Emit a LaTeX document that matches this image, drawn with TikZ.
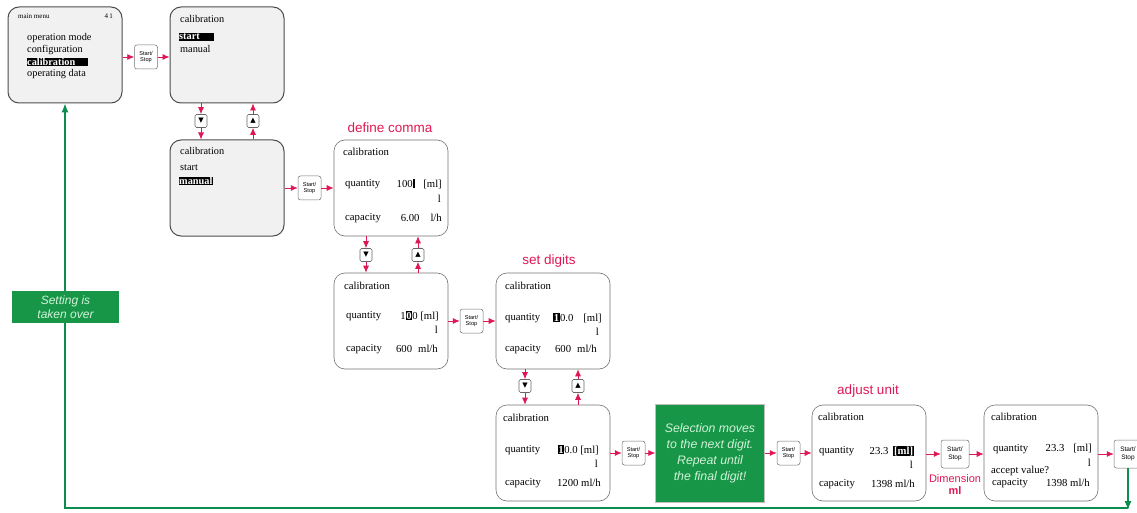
\documentclass[tikz,border=0pt]{standalone}
\usepackage{fontspec}
\setmainfont{Liberation Serif}
\setsansfont{Liberation Sans}
\newfontfamily\symfont{DejaVu Sans}
\usetikzlibrary{arrows.meta}

\definecolor{keyred}{RGB}{222,24,84}
\definecolor{retgreen}{RGB}{12,140,78}
\definecolor{notegreen}{RGB}{24,150,72}
\definecolor{notetext}{RGB}{208,242,216}
\definecolor{screengray}{RGB}{241,241,241}

\newcommand{\hl}[1]{{\setlength{\fboxsep}{0.7pt}\colorbox{black}{\textcolor{white}{\bfseries #1}}}}
\newcommand{\hlw}[2]{{\setlength{\fboxsep}{0.7pt}\colorbox{black}{\makebox[#1][l]{\textcolor{white}{\bfseries #2}}}}}
\newcommand{\cur}{\rule[-0.5pt]{2.6pt}{8.5pt}}

\tikzset{
	screen/.style={draw=black!55, line width=0.6pt, rounded corners=11pt, fill=white,
		minimum width=114pt, minimum height=96pt, inner sep=0pt},
	menuscreen/.style={screen, draw=black!70, line width=1pt, fill=screengray},
	keybtn/.style={draw=black!55, line width=0.5pt, rounded corners=2.5pt, fill=white,
		minimum width=23pt, minimum height=24pt, inner sep=0pt, align=center,
		font=\sffamily\fontsize{5.6}{6.6}\selectfont},
	bigkey/.style={keybtn, minimum width=28pt, minimum height=28pt, font=\sffamily\fontsize{6.5}{7.5}\selectfont},
	arrowbtn/.style={draw=black!60, line width=0.6pt, rounded corners=1.5pt, fill=white,
		minimum width=12pt, minimum height=13pt, inner sep=0pt, font=\symfont\fontsize{7}{7}\selectfont},
	redarrow/.style={keyred, line width=0.8pt, -{Latex[length=7pt,width=6pt]}},
	greenline/.style={retgreen, line width=1.2pt},
	lbl/.style={anchor=west, inner sep=0pt, font=\fontsize{10.7}{12}\selectfont},
	val/.style={anchor=east, inner sep=0pt, font=\fontsize{10.7}{12}\selectfont},
	menutxt/.style={anchor=west, inner sep=0pt, font=\fontsize{10.3}{11}\selectfont},
	steplabel/.style={keyred, inner sep=0pt, font=\sffamily\fontsize{13.5}{15}\selectfont},
}

\begin{document}
\begin{tikzpicture}[x=1pt,y=-1pt]
	\useasboundingbox (0,0) rectangle (1137,513);

	% menu screens
	\node[menuscreen] (A) at (65,55) {};
	\node[menuscreen] (B) at (227,55) {};
	\node[menuscreen] (C) at (227,188) {};

	\node[menutxt, font=\fontsize{7}{8}\selectfont] (Ahead) at (18,16) {main menu};
	\node[val, font=\fontsize{7}{8}\selectfont] (Anum) at (113,16) {4\,1};
	\node[menutxt] (A1) at (27,38) {operation mode};
	\node[menutxt] (A2) at (27,50) {configuration};
	\node[menutxt] (A3) at (26.3,62) {\hlw{60pt}{calibration}};
	\node[menutxt] (A4) at (27,74) {operating data};

	\node[menutxt] (Bt) at (180,19) {calibration};
	\node[menutxt] (B1) at (178.3,37) {\hlw{34pt}{start}};
	\node[menutxt] (B2) at (180,49) {manual};

	\node[menutxt] (Ct) at (180,151) {calibration};
	\node[menutxt] (C1) at (180,168) {start};
	\node[menutxt] (C2) at (178.3,181) {\hl{manual}};

	% value screens
	\node[screen] (D) at (391,188) {};
	\node[screen] (E) at (391,321) {};
	\node[screen] (F) at (553,321) {};
	\node[screen] (G) at (553,453) {};
	\node[screen] (I) at (869,453) {};
	\node[screen] (J) at (1041,453) {};

	\node[lbl] (Dt) at (343,152) {calibration};
	\node[lbl] (Dq) at (345,184) {quantity};
	\node[val] (Dqv) at (442,184) {100\cur\hspace{8pt}[ml]};
	\node[val] (Dl) at (441,199) {l};
	\node[lbl] (Dc) at (345,218) {capacity};
	\node[val] (Dcv) at (442,218) {6.00\hspace{11pt}l/h};

	\node[lbl] (Et) at (344,286) {calibration};
	\node[lbl] (Eq) at (346,316) {quantity};
	\node[val] (Eqv) at (439,316) {1\hl{0}0 [ml]};
	\node[val] (El) at (438,330) {l};
	\node[lbl] (Ec) at (346,349) {capacity};
	\node[val] (Ecv) at (438,349) {600\hspace{6pt}ml/h};

	\node[lbl] (Ft) at (505,286) {calibration};
	\node[lbl] (Fq) at (505,318) {quantity};
	\node[val] (Fqv) at (602,318) {\hl{1}0.0\hspace{10pt}[ml]};
	\node[val] (Fl) at (599,332) {l};
	\node[lbl] (Fc) at (505,349) {capacity};
	\node[val] (Fcv) at (597,349) {600\hspace{6pt}ml/h};

	\node[lbl] (Gt) at (503,418) {calibration};
	\node[lbl] (Gq) at (505,450) {quantity};
	\node[val] (Gqv) at (599,450) {\hl{1}0.0 [ml]};
	\node[val] (Gl) at (598,464) {l};
	\node[lbl] (Gc) at (505,483) {capacity};
	\node[val] (Gcv) at (601,483) {1200 ml/h};

	\node[lbl] (It) at (818,417) {calibration};
	\node[lbl] (Iq) at (819,451) {quantity};
	\node[val] (Iqv) at (914,451) {23.3\hspace{5pt}\hl{[ml]}};
	\node[val] (Il) at (913,465) {l};
	\node[lbl] (Ic) at (819,484) {capacity};
	\node[val] (Icv) at (915,484) {1398 ml/h};

	\node[lbl] (Jt) at (991,417) {calibration};
	\node[lbl] (Jq) at (993,449) {quantity};
	\node[val] (Jqv) at (1092,449) {23.3\hspace{9pt}[ml]};
	\node[val] (Jl) at (1091,463) {l};
	\node[lbl] (Ja) at (991,471) {accept value?};
	\node[lbl] (Jc) at (992,483) {capacity};
	\node[val] (Jcv) at (1090,483) {1398 ml/h};

	% note
	\node[fill=notegreen, draw=black!25, line width=0.4pt, minimum width=109pt, minimum height=98pt,
		inner sep=0pt, align=center, text=notetext,
		font=\sffamily\itshape\fontsize{12.3}{16}\selectfont] (H) at (710,453)
		{Selection moves\\to the next digit.\\Repeat until\\the final digit!};

	% keys
	\node[keybtn] (ss1) at (146,57) {Start/\\Stop};
	\node[keybtn] (ss2) at (309.5,188) {Start/\\Stop};
	\node[keybtn] (ss3) at (471.5,321) {Start/\\Stop};
	\node[keybtn] (ss4) at (633.5,453) {Start/\\Stop};
	\node[keybtn] (ss5) at (788.5,453) {Start/\\Stop};
	\node[bigkey] (ss6) at (955,454) {Start/\\Stop};
	\node[bigkey] (ss7) at (1128,454) {Start/\\Stop};

	\node[arrowbtn] (dn1) at (201,121) {▼};
	\node[arrowbtn] (up1) at (253,121) {▲};
	\node[arrowbtn] (dn2) at (366,255) {▼};
	\node[arrowbtn] (up2) at (418,255) {▲};
	\node[arrowbtn] (dn3) at (525,386) {▼};
	\node[arrowbtn] (up3) at (578,386) {▲};

	% step labels
	\node[steplabel] (defcomma) at (390,128) {define comma};
	\node[steplabel] (setdig) at (549,261) {set digits};
	\node[steplabel] (adjunit) at (868,391) {adjust unit};
	\node[steplabel, font=\sffamily\fontsize{11}{12}\selectfont, align=center] (dimml) at (955,485)
		{Dimension\\\textbf{ml}};

	% red arrows
	\draw[redarrow] (A.east |- ss1.west) -- (ss1.west);
	\draw[redarrow] (ss1.east) -- (ss1.east -| B.west);
	\draw[redarrow] (C.east |- ss2.west) -- (ss2.west);
	\draw[redarrow] (ss2.east) -- (ss2.east -| D.west);
	\draw[redarrow] (E.east |- ss3.west) -- (ss3.west);
	\draw[redarrow] (ss3.east) -- (ss3.east -| F.west);
	\draw[redarrow] (G.east |- ss4.west) -- (ss4.west);
	\draw[redarrow] (ss4.east) -- (ss4.east -| H.west);
	\draw[redarrow] (H.east |- ss5.west) -- (ss5.west);
	\draw[redarrow] (ss5.east) -- (ss5.east -| I.west);
	\draw[redarrow] (I.east |- ss6.west) -- (ss6.west);
	\draw[redarrow] (ss6.east) -- (ss6.east -| J.west);
	\draw[redarrow] (J.east |- ss7.west) -- (ss7.west);

	\foreach \top/\bot/\dn/\up in {B/C/dn1/up1, D/E/dn2/up2, F/G/dn3/up3} {
		\draw[redarrow] (\dn |- \top.south) -- (\dn.north);
		\draw[redarrow] (\dn.south) -- (\dn |- \bot.north);
		\draw[redarrow] (\up |- \bot.north) -- (\up.south);
		\draw[redarrow] (\up.north) -- (\up |- \top.south);
	}

	% return path
	\coordinate (retR) at (1128,508);
	\coordinate (retL) at (65,508);
	\draw[greenline, -{Latex[length=9pt,width=7pt]}] (ss7.south) -- ([yshift=-2pt]retR);
	\draw[greenline, -{Latex[length=9pt,width=7pt]}] (retR) -- (retL) -- (A.south -| retL);
	\node[fill=notegreen, minimum width=107pt, minimum height=32pt, inner sep=0pt, align=center,
		text=notetext, font=\sffamily\itshape\fontsize{12}{14}\selectfont] (taken) at (65.5,307)
		{Setting is\\taken over};
\end{tikzpicture}
\end{document}
